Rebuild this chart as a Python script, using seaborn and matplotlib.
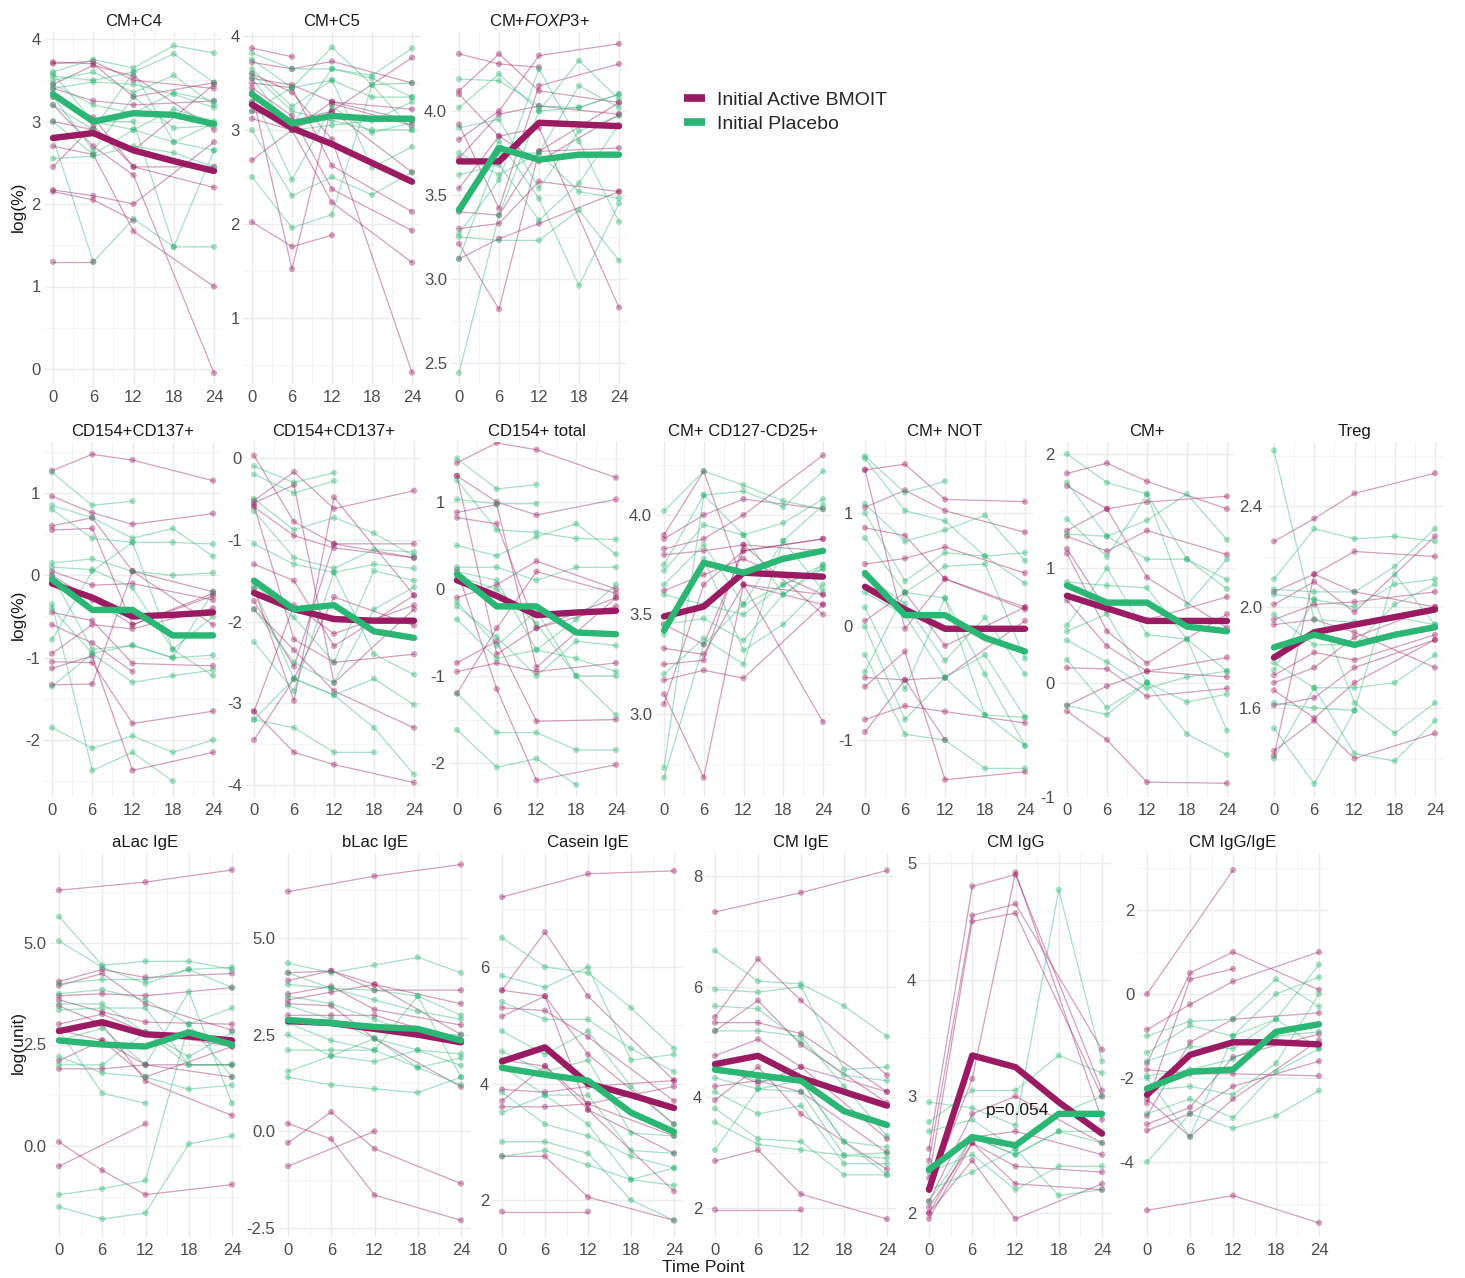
import numpy as np
import pandas as pd
import matplotlib
matplotlib.use("Agg")
import matplotlib.pyplot as plt
import seaborn as sns
from matplotlib.lines import Line2D
from matplotlib.ticker import FixedLocator

N = np.nan
TIME = [0, 6, 12, 18, 24]
GROUPS = ["Initial Active BMOIT", "Initial Placebo"]

# ---------------- data (log values per subject, NaN = missing visit) ----------------
C4_active = [[3.72, 3.70, 3.30, N, 3.47], [3.70, 3.73, 3.50, N, 3.40], [3.40, 3.25, 3.20, N, 3.25],
             [3.30, 3.05, 2.45, N, 2.45], [3.20, 2.70, 2.35, N, -0.05], [2.70, 2.60, 1.67, N, 1.00],
             [2.45, 2.95, 2.45, N, 2.20], [2.17, 2.10, 2.00, N, 2.75], [2.15, 2.05, 1.80, N, N],
             [1.30, 1.30, N, N, N], [3.45, 3.68, 3.55, N, 2.90], [3.00, 2.90, 2.65, N, 3.45]]
C4_placebo = [[3.60, 3.75, 3.65, 3.92, 3.83], [3.55, 3.50, 3.60, 3.82, 3.47], [3.50, 3.60, 3.35, 3.56, 3.20],
              [3.45, 3.20, 3.10, 3.35, 3.25], [3.35, 3.00, 2.90, 3.15, 3.00], [3.00, 2.60, 2.90, 2.75, 2.65],
              [2.55, 2.58, 2.70, 2.62, 2.45], [2.80, 1.30, 1.82, 1.48, 1.48], [3.30, 2.65, 3.30, 2.92, 2.95],
              [3.40, 3.48, 3.45, 3.33, 3.17], [3.58, 3.00, 3.00, 1.48, 2.65], [3.20, 2.90, 3.60, 2.75, 2.98]]
C4_mean_active = [2.80, 2.86, 2.65, 2.52, 2.40]
C4_mean_placebo = [3.33, 3.00, 3.10, 3.08, 2.97]

C5_active = [[3.87, 3.78, N, N, N], [3.72, 3.65, 3.73, N, 3.50], [3.55, 3.48, 3.30, N, 3.22],
             [3.50, 3.45, 2.62, N, 2.13], [3.45, 3.15, 2.37, N, 1.93], [3.30, 3.00, 3.20, N, 3.77],
             [3.12, 3.00, 2.23, N, 1.59], [2.68, 3.00, 3.30, N, 3.10], [2.02, 1.76, 1.88, N, N],
             [3.40, 1.52, 3.28, N, 3.05], [3.60, 3.40, 2.90, N, 0.42], [3.20, 3.10, 3.20, N, 2.55]]
C5_placebo = [[3.82, 3.65, 3.65, 3.58, 3.87], [3.75, 3.45, 3.88, 3.48, 3.50], [3.65, 3.25, 3.53, 3.35, 3.35],
              [3.55, 3.00, 3.05, 3.10, 3.30], [3.40, 2.47, 3.25, 2.97, 3.08], [3.20, 3.45, 3.53, 2.60, 2.82],
              [3.00, 2.30, 2.50, 2.31, 2.55], [2.50, 1.96, 2.10, 3.48, 3.00], [3.60, 3.20, 3.10, 3.00, 3.00],
              [3.30, 3.05, 3.65, 3.55, 3.35]]
C5_mean_active = [3.27, 3.02, 2.85, 2.65, 2.45]
C5_mean_placebo = [3.38, 3.07, 3.15, 3.12, 3.12]

FOXP3_active = [[4.34, 4.28, 4.26, N, N], [4.12, 4.34, 4.12, N, 4.05], [3.92, 3.42, 4.15, N, 4.28],
                [3.83, 4.00, 4.33, N, 4.40], [3.72, 3.98, 4.03, N, 3.98], [3.54, 3.85, 3.90, N, 2.83],
                [3.40, 3.38, 3.76, N, 3.78], [3.30, 3.33, 3.58, N, 3.52], [3.21, 2.82, 3.76, N, 4.05],
                [3.12, 3.24, 3.33, N, 3.52], [4.10, 3.85, 3.70, N, 3.98]]
FOXP3_placebo = [[4.19, 4.18, 4.03, 4.02, 4.10], [4.02, 4.22, 4.00, 4.30, 4.07], [3.90, 3.95, 3.54, 3.88, 3.97],
                 [3.75, 3.62, 3.75, 3.52, 3.48], [3.62, 3.68, 3.35, 3.57, 3.92], [3.42, 3.82, 3.48, 2.96, 3.45],
                 [3.27, 3.59, 4.25, 3.82, 3.34], [3.25, 3.23, 3.23, 3.41, 3.11], [3.12, 3.75, 3.75, 4.15, 4.02],
                 [2.44, 3.38, 4.00, 4.02, 4.10]]
FOXP3_mean_active = [3.70, 3.70, 3.93, 3.92, 3.91]
FOXP3_mean_placebo = [3.41, 3.78, 3.71, 3.74, 3.74]

CD154CD137a_active = [[1.27, 1.47, 1.40, N, 1.15], [0.96, 0.76, 0.62, N, 0.75], [0.60, 0.70, 0.05, N, -0.20],
                      [0.55, 0.57, -0.60, N, -0.25], [0.05, -0.12, -0.10, N, -0.30], [-0.45, -0.55, -1.07, N, -1.10],
                      [-0.60, -0.82, -1.17, N, N], [-0.95, -0.60, -0.65, N, -0.40], [-1.05, -1.06, -1.80, N, -1.65],
                      [-1.13, -0.98, -2.37, N, -2.15], [-1.33, -1.32, 0.05, N, -0.60], [0.00, -0.30, -0.60, N, -0.22]]
CD154CD137a_placebo = [[1.25, 0.85, 0.90, N, N], [0.85, 0.70, 0.45, 0.57, 0.23], [0.80, 0.45, 0.40, 0.40, 0.38],
                       [0.15, 0.20, 0.05, 0.00, 0.03], [0.10, 0.07, -0.15, -0.90, -0.50], [0.00, -0.90, -0.85, -1.00, -0.97],
                       [-0.40, -0.95, -1.30, -1.22, -1.15], [-0.78, 0.05, 0.40, -0.90, -1.22],
                       [-1.35, -0.95, -0.85, -1.00, -0.20], [-1.85, -2.10, -1.95, -2.15, -2.00],
                       [-0.35, -2.37, -2.15, -2.50, N]]
CD154CD137a_mean_active = [-0.10, -0.27, -0.50, -0.48, -0.45]
CD154CD137a_mean_placebo = [-0.05, -0.42, -0.42, -0.73, -0.73]

CD154CD137b_active = [[0.03, -0.78, -1.05, N, -1.05], [-0.52, -0.17, -0.62, N, -0.40], [-0.55, -0.33, -2.75, N, -1.85],
                      [-0.60, -0.95, -1.10, N, -1.22], [-1.30, -1.50, -2.30, N, -1.68], [-1.85, -2.35, -2.85, N, -3.30],
                      [-3.10, -1.80, -2.15, N, -1.80], [-3.45, -2.70, -1.70, N, -2.05], [-3.10, -3.60, -3.75, N, -3.97],
                      [-0.58, -2.22, -2.50, N, -2.40], [-1.60, -2.97, -0.48, N, -1.68], [-1.75, -2.55, -1.05, N, -1.22]]
CD154CD137b_placebo = [[-0.10, -0.30, -0.18, N, N], [-0.20, -0.43, -0.28, N, N], [-0.50, -0.88, -0.73, -0.92, -1.20],
                       [-0.65, -1.22, -1.35, -1.12, -1.15], [-1.05, -1.30, -1.40, -1.30, -1.35],
                       [-1.55, -1.95, -2.50, -1.38, -1.50], [-1.85, -2.50, -2.75, -1.85, -1.58],
                       [-2.25, -2.85, -1.40, -2.40, -2.65], [-3.20, -2.70, -2.90, -2.70, -3.02],
                       [-3.20, -3.30, -3.60, -3.60, N], [-1.60, -2.70, -2.90, -3.30, -3.87]]
CD154CD137b_mean_active = [-1.65, -1.85, -1.97, -1.99, -1.99]
CD154CD137b_mean_placebo = [-1.50, -1.85, -1.80, -2.12, -2.20]

CD154tot_active = [[1.45, 1.68, 1.60, N, 1.28], [1.30, 1.00, 0.85, N, 1.03], [0.88, 0.97, -0.90, N, -0.10],
                   [0.82, 0.75, -0.45, N, -0.20], [-0.10, 0.05, 0.32, N, 0.00], [-0.85, -0.60, -1.52, N, -1.50],
                   [-0.95, -0.85, -0.95, N, -0.85], [-1.20, -0.45, 0.20, N, -0.05], [0.22, -1.15, -2.20, N, -2.02],
                   [1.30, -0.75, -0.45, N, -0.10]]
CD154tot_placebo = [[1.50, 1.15, 1.20, N, N], [1.03, 0.98, 0.98, N, N], [1.25, 0.68, 0.65, 0.58, 0.57],
                    [0.50, 0.38, 0.60, 0.75, 0.40], [0.25, 0.25, 0.10, 0.25, 0.25], [0.20, 0.10, -0.70, -0.35, 0.05],
                    [-0.20, -0.55, -1.00, -0.60, -0.65], [-0.35, -0.80, -0.70, -0.80, -0.95],
                    [-1.20, -1.65, -1.65, -1.85, -1.85], [-1.62, -2.05, -1.95, -2.25, N],
                    [0.15, 0.00, -0.40, -1.00, -1.00], [-0.15, -0.65, -0.25, -1.00, -1.45]]
CD154tot_mean_active = [0.10, -0.08, -0.30, -0.27, -0.25]
CD154tot_mean_placebo = [0.17, -0.20, -0.20, -0.50, -0.52]

CD127_active = [[3.90, 4.22, 3.65, N, 2.96], [3.88, 4.00, 4.08, N, 4.03], [3.83, 3.88, 4.00, N, 4.30],
                [3.80, 3.82, 3.85, N, 3.82], [3.62, 3.70, 3.78, N, 3.60], [3.45, 3.35, 3.82, N, 3.88],
                [3.33, 3.30, 3.65, N, 3.55], [3.25, 3.27, 3.85, N, 3.50], [3.17, 3.22, 3.18, N, 3.55],
                [3.10, 2.68, 3.65, N, 3.60], [3.05, 3.65, 3.82, N, 3.88]]
CD127_placebo = [[4.02, 4.22, 4.15, 4.07, 4.03], [3.75, 4.10, 4.12, 4.04, 4.22], [3.72, 3.95, 3.90, 3.96, 4.08],
                 [3.65, 3.85, 3.55, 3.87, 4.05], [3.60, 3.55, 3.50, 3.65, 3.75], [3.45, 3.48, 3.37, 3.60, 3.73],
                 [3.40, 3.78, 3.32, 3.45, 3.65], [3.20, 3.38, 3.25, 3.87, 3.62], [2.73, 4.10, 3.90, 3.60, 3.75],
                 [2.68, 3.35, 3.55, 3.65, 3.73]]
CD127_mean_active = [3.49, 3.54, 3.71, 3.70, 3.69]
CD127_mean_placebo = [3.42, 3.76, 3.71, 3.78, 3.82]

CMNOT_active = [[1.38, 1.43, 1.12, N, 1.10], [1.05, 1.20, 1.02, N, 0.83], [0.87, 0.80, 0.42, N, 0.15],
                [0.55, 0.60, 0.70, N, 0.47], [0.05, 0.30, -0.17, N, 0.17], [-0.45, -0.47, -0.45, N, 0.05],
                [-0.53, -0.22, -1.35, N, -1.28], [-0.82, -0.70, -0.75, N, -0.85], [1.38, -0.02, 0.42, N, 0.17],
                [-0.93, -0.47, -1.00, N, N]]
CMNOT_placebo = [[1.50, 1.18, 1.28, N, N], [1.48, 1.02, 0.93, 0.62, 0.65], [1.08, 0.75, 0.85, 0.98, 0.58],
                 [1.00, 0.40, 0.65, 0.62, 0.38], [0.78, 0.30, 0.53, 0.55, -0.28], [0.45, 0.20, -0.30, 0.08, -0.42],
                 [0.30, 0.10, -0.45, -0.25, -0.80], [0.17, -0.55, 0.25, -0.42, -1.05],
                 [0.00, -0.82, -0.45, -0.78, -0.80], [-0.25, -0.95, -1.00, -1.25, -1.25],
                 [-0.40, 0.30, 0.25, -0.78, -1.05]]
CMNOT_mean_active = [0.35, 0.15, -0.02, -0.02, -0.02]
CMNOT_mean_placebo = [0.47, 0.10, 0.10, -0.10, -0.22]

CMpos_active = [[1.83, 1.92, 1.76, N, 1.52], [1.72, 1.52, 1.58, N, 1.63], [1.33, 1.52, 0.92, N, 0.48],
                [1.28, 1.15, 1.33, N, 1.12], [1.17, 0.63, 0.55, N, 0.75], [1.13, 0.45, 0.17, N, 0.60],
                [0.72, 0.32, 0.10, N, 0.22], [0.13, 0.12, -0.12, N, -0.05], [-0.20, -0.03, 0.10, N, 0.05],
                [-0.25, -0.50, -0.87, N, -0.88]]
CMpos_placebo = [[2.00, 1.75, 1.65, 1.08, 0.90], [1.75, 1.28, 1.42, 1.65, 1.25], [1.43, 1.10, 1.65, 0.68, 1.08],
                 [1.30, 1.28, 1.08, 1.08, 0.82], [0.88, 0.85, 0.83, 0.38, 0.10], [0.50, 1.00, 0.42, 0.38, -0.42],
                 [0.45, 0.60, 0.00, -0.17, -0.10], [0.37, 0.18, -0.05, 0.05, 0.10],
                 [0.20, -0.22, 0.00, -0.45, -0.63], [-0.20, -0.28, 0.00, N, N]]
CMpos_mean_active = [0.76, 0.65, 0.54, 0.54, 0.54]
CMpos_mean_placebo = [0.85, 0.70, 0.70, 0.49, 0.45]

Treg_active = [[2.26, 2.35, 2.45, N, 2.53], [2.06, 2.13, 2.22, N, 2.20], [2.01, 2.10, 1.98, N, 2.28],
               [1.95, 2.01, 2.02, N, 2.06], [1.93, 1.95, 1.90, N, 1.76], [1.73, 1.82, 1.79, N, 1.89],
               [1.70, 1.76, 1.88, N, 2.00], [1.67, 1.56, 1.70, N, 1.87], [1.61, 1.64, 1.76, N, 1.87],
               [1.43, 1.55, 1.40, N, 1.50], [1.41, 2.13, 2.06, N, 2.00]]
Treg_placebo = [[2.62, 1.95, 1.94, 1.96, 1.93], [2.11, 2.31, 2.27, 2.28, 2.26], [2.07, 2.06, 2.06, 2.16, 2.31],
                [2.05, 2.03, 2.00, 2.09, 2.11], [1.97, 1.85, 1.85, 2.01, 2.09], [1.78, 1.68, 1.68, 1.70, 1.81],
                [1.75, 2.03, 1.62, 1.50, 1.62], [1.62, 1.60, 1.59, 2.13, 1.93], [1.52, 1.30, 1.59, N, N],
                [1.40, 1.68, 1.42, 1.39, 1.55]]
Treg_mean_active = [1.80, 1.90, 1.93, 1.96, 1.99]
Treg_mean_placebo = [1.84, 1.89, 1.85, 1.89, 1.92]

aLac_active = [[6.30, N, 6.50, N, 6.80], [4.05, 4.35, 4.15, N, 4.25], [3.95, 4.25, 3.50, N, 2.85],
               [3.70, 3.75, 3.70, N, 3.90], [3.60, 3.30, 3.05, N, 3.00], [3.45, 3.00, 1.60, N, 0.75],
               [3.00, 3.25, 2.80, N, 2.45], [2.85, 2.60, 1.70, N, 2.45], [2.10, 2.60, 2.00, N, 1.70],
               [1.90, 1.90, 2.00, N, 2.00], [0.10, -0.60, -1.20, N, -0.95], [-0.50, N, 0.55, N, N]]
aLac_placebo = [[5.65, 4.45, 4.55, 4.55, 4.35], [5.05, 4.40, 4.00, 4.35, 4.40], [4.00, 4.10, 4.10, 4.35, 3.90],
                [3.75, 3.85, 3.60, 3.00, 3.40], [3.50, 3.50, 2.80, 2.20, 2.80], [3.35, 3.40, 3.40, 2.00, 2.00],
                [2.60, 2.90, 2.00, 3.80, 1.05], [2.20, 1.80, 1.70, 1.40, 1.50], [2.85, 1.30, 1.05, N, N],
                [-1.20, -1.05, -0.85, 3.00, 1.70], [-1.50, -1.80, -1.65, 0.05, 0.25], [2.00, 2.00, 2.80, 2.00, 2.00]]
aLac_mean_active = [2.83, 3.05, 2.75, 2.70, 2.60]
aLac_mean_placebo = [2.60, 2.50, 2.45, 2.80, 2.50]

bLac_active = [[6.20, N, 6.60, N, 6.90], [4.10, 4.15, 3.80, N, 3.30], [3.90, 4.15, 3.65, N, 3.65],
               [3.55, 3.75, 3.15, N, 2.75], [3.40, 3.60, 3.80, N, 2.50], [3.30, 3.25, 2.40, N, 1.15],
               [3.00, 3.00, 3.00, N, 2.35], [0.20, -0.20, -1.65, N, -2.30], [-0.30, 0.50, -0.45, N, -1.35],
               [-0.90, N, 0.00, N, N]]
bLac_placebo = [[4.35, 4.10, 4.30, 4.50, 4.10], [4.10, 3.70, 3.65, 3.50, 3.00], [3.80, 3.70, 3.40, 3.10, 2.90],
                [3.50, 3.30, 2.90, 2.50, 2.50], [3.25, 2.90, 2.40, 2.10, 2.00], [2.80, 2.35, 2.10, 1.65, 1.90],
                [2.50, 1.95, 1.80, 2.10, 1.70], [2.10, 2.10, 2.10, 3.50, 1.40], [1.55, 1.95, 2.40, 1.65, 1.20],
                [1.40, 1.20, 1.10, 1.00, 1.40]]
bLac_mean_active = [2.85, 2.80, 2.65, 2.50, 2.30]
bLac_mean_placebo = [2.88, 2.80, 2.70, 2.65, 2.35]

Casein_active = [[7.20, N, 7.60, N, 7.65], [5.60, 6.60, 5.50, N, 4.05], [5.30, 5.25, 4.80, N, 3.70],
                 [5.15, 5.50, 4.50, N, 3.30], [4.40, 4.30, 3.55, N, 2.80], [3.90, 3.85, 3.95, N, 4.05],
                 [3.70, 4.30, 3.65, N, 3.10], [3.60, 3.60, 3.65, N, 3.95], [2.75, 2.75, 2.05, N, 1.65],
                 [1.80, N, 1.80, N, N], [5.60, 5.50, 3.55, N, 2.15]]
Casein_placebo = [[6.50, 6.00, 5.90, 5.30, 4.60], [5.85, 5.65, 6.00, 4.40, 4.50], [5.40, 5.10, 5.10, 4.60, 4.20],
                  [4.90, 4.50, 4.90, 3.95, 3.30], [4.55, 4.20, 4.40, 3.15, 3.10], [4.30, 3.80, 3.80, 2.85, 2.80],
                  [3.85, 3.30, 3.10, 2.75, 2.55], [3.50, 3.80, 3.30, 2.35, 2.55], [3.00, 3.00, 2.80, 2.00, 1.65],
                  [2.75, 2.85, 2.60, 2.35, 2.25]]
Casein_mean_active = [4.38, 4.62, 4.00, 3.80, 3.58]
Casein_mean_placebo = [4.27, 4.15, 4.05, 3.50, 3.17]

CMIgE_active = [[7.35, N, 7.70, N, 8.10], [5.45, 6.50, 5.75, N, 4.40], [5.35, 5.35, 5.15, N, 4.10],
                [5.20, 5.75, 4.95, N, 3.90], [4.75, 5.05, 4.55, N, 3.25], [4.20, 4.30, 4.10, N, 3.00],
                [3.95, 4.55, 3.70, N, 2.70], [2.85, 3.05, 2.25, N, 1.80], [1.97, N, 1.97, N, N],
                [4.60, 4.25, 4.55, N, 4.10]]
CMIgE_placebo = [[6.65, 6.10, 6.05, 5.65, 5.10], [5.95, 5.90, 6.00, 4.50, 4.55], [5.65, 5.60, 5.00, 4.40, 4.30],
                 [5.20, 5.20, 5.10, 4.20, 3.30], [4.55, 4.30, 4.30, 3.20, 3.10], [4.35, 4.15, 4.10, 2.95, 3.00],
                 [4.10, 3.70, 3.85, 2.80, 2.80], [3.80, 3.25, 3.20, 2.60, 2.60], [3.55, 3.15, 3.05, 2.95, 2.90],
                 [3.05, 4.15, 4.30, 3.20, 2.60]]
CMIgE_mean_active = [4.60, 4.75, 4.35, 4.10, 3.85]
CMIgE_mean_placebo = [4.50, 4.40, 4.30, 3.75, 3.50]

CMIgG_active = [[2.55, 4.80, 4.90, N, 3.05], [2.45, 4.55, 4.65, N, 3.40], [2.30, 4.50, 4.57, N, 3.00],
                [2.20, 3.15, 4.92, N, 2.80], [2.10, 2.85, 3.00, N, 2.60], [2.00, 2.65, 2.70, N, 2.50],
                [1.95, 2.60, 2.40, N, 2.35], [2.00, 2.45, 1.95, N, 2.25], [2.05, 2.60, 2.25, N, 2.20]]
CMIgG_placebo = [[2.95, 2.90, 2.75, 4.77, 3.30], [2.78, 3.05, 3.05, 3.35, 3.20], [2.70, 2.80, 2.55, 2.85, 3.00],
                 [2.40, 2.65, 2.50, 2.70, 2.70], [2.35, 2.50, 2.20, 2.40, 2.40], [2.20, 2.35, 2.55, 2.15, 2.20],
                 [2.10, 2.65, 2.50, 2.70, 2.60]]
CMIgG_mean_active = [2.20, 3.35, 3.25, 2.95, 2.68]
CMIgG_mean_placebo = [2.37, 2.65, 2.58, 2.85, 2.85]

Ratio_active = [[0.00, N, 2.95, N, N], [-0.85, -0.25, 0.30, N, 1.00], [-1.65, 0.50, 1.00, N, 0.10],
                [-2.60, 0.35, 0.60, N, N], [-2.90, -1.15, -0.60, N, -0.45], [-3.10, -2.70, -1.50, N, -0.95],
                [-3.25, -2.85, -2.20, N, -1.60], [-2.50, -3.40, -2.50, N, -1.10], [-5.15, N, -4.80, N, -5.45],
                [-1.80, -1.90, -1.90, N, -1.95]]
Ratio_placebo = [[-1.00, -0.65, -0.60, 0.35, -0.30], [-1.40, -0.75, -1.00, 0.00, 0.40],
                 [-1.60, -1.25, -1.30, -0.60, 0.70], [-1.95, -1.80, -1.55, -1.00, -0.90],
                 [-2.30, -2.20, -2.40, -1.65, 0.00], [-2.85, -2.50, -2.95, -1.85, -1.30],
                 [-4.00, -2.85, -3.20, -2.90, -2.30], [-2.00, -3.40, -1.00, -0.60, -1.30]]
Ratio_mean_active = [-2.40, -1.45, -1.15, -1.15, -1.20]
Ratio_mean_placebo = [-2.25, -1.85, -1.80, -0.90, -0.72]

# ---------------- layout (pixels in a 1465 x 1278 canvas) ----------------
W, H = 1465, 1278
ROW_Y = {1: (32, 384), 2: (442, 797), 3: (853, 1237)}
# title, active, placebo, mean_a, mean_p, row, px(t=0), px(t=24), y-calibration (v1, py1, v2, py2), yticks
PANELS = [
    ("CM+C4", C4_active, C4_placebo, C4_mean_active, C4_mean_placebo, 1, 53, 214, (4, 39, 0, 369), [0, 1, 2, 3, 4]),
    ("CM+C5", C5_active, C5_placebo, C5_mean_active, C5_mean_placebo, 1, 252, 412, (4, 36, 1, 318), [1, 2, 3, 4]),
    ("CM+$\\mathit{FOXP3}$+", FOXP3_active, FOXP3_placebo, FOXP3_mean_active, FOXP3_mean_placebo, 1, 459, 619,
     (4.0, 111, 2.5, 363), [2.5, 3.0, 3.5, 4.0]),
    ("CD154+CD137+", CD154CD137a_active, CD154CD137a_placebo, CD154CD137a_mean_active, CD154CD137a_mean_placebo,
     2, 52, 213, (1, 493, -2, 740), [-2, -1, 0, 1]),
    ("CD154+CD137+", CD154CD137b_active, CD154CD137b_placebo, CD154CD137b_mean_active, CD154CD137b_mean_placebo,
     2, 254, 414, (0, 458, -4, 785), [-4, -3, -2, -1, 0]),
    ("CD154+ total", CD154tot_active, CD154tot_placebo, CD154tot_mean_active, CD154tot_mean_placebo,
     2, 457, 616, (1, 502, -2, 763), [-2, -1, 0, 1]),
    ("CM+ CD127-CD25+", CD127_active, CD127_placebo, CD127_mean_active, CD127_mean_placebo,
     2, 664, 823, (4.0, 515, 3.0, 714), [3.0, 3.5, 4.0]),
    ("CM+ NOT", CMNOT_active, CMNOT_placebo, CMNOT_mean_active, CMNOT_mean_placebo,
     2, 865, 1025, (1, 513, -1, 740), [-1, 0, 1]),
    ("CM+", CMpos_active, CMpos_placebo, CMpos_mean_active, CMpos_mean_placebo,
     2, 1067, 1227, (2, 454, -1, 797), [-1, 0, 1, 2]),
    ("Treg", Treg_active, Treg_placebo, Treg_mean_active, Treg_mean_placebo,
     2, 1274, 1435, (2.4, 506, 1.6, 708), [1.6, 2.0, 2.4]),
    ("aLac IgE", aLac_active, aLac_placebo, aLac_mean_active, aLac_mean_placebo,
     3, 59, 232, (5.0, 943, 0.0, 1146), [0.0, 2.5, 5.0]),
    ("bLac IgE", bLac_active, bLac_placebo, bLac_mean_active, bLac_mean_placebo,
     3, 288, 461, (5.0, 938, -2.5, 1228), [-2.5, 0.0, 2.5, 5.0]),
    ("Casein IgE", Casein_active, Casein_placebo, Casein_mean_active, Casein_mean_placebo,
     3, 502, 674, (6, 967, 2, 1200), [2, 4, 6]),
    ("CM IgE", CMIgE_active, CMIgE_placebo, CMIgE_mean_active, CMIgE_mean_placebo,
     3, 715, 887, (8, 876, 2, 1208), [2, 4, 6, 8]),
    ("CM IgG", CMIgG_active, CMIgG_placebo, CMIgG_mean_active, CMIgG_mean_placebo,
     3, 929, 1102, (5, 863, 2, 1213), [2, 3, 4, 5]),
    ("CM IgG/IgE", Ratio_active, Ratio_placebo, Ratio_mean_active, Ratio_mean_placebo,
     3, 1147, 1319, (2, 910, -4, 1162), [-4, -2, 0, 2]),
]

PAL = {GROUPS[0]: "#9B1B62", GROUPS[1]: "#2BB673"}

sns.set_theme(style="white")
plt.rcParams["font.family"] = ["Liberation Sans", "DejaVu Sans"]
plt.rcParams["mathtext.fontset"] = "custom"
plt.rcParams["mathtext.rm"] = "Liberation Sans"
plt.rcParams["mathtext.it"] = "Liberation Sans:italic"

TXT = "#1A1A1A"


def subjects_df(active, placebo):
    rows = []
    for g, subs in zip(GROUPS, (active, placebo)):
        for i, s in enumerate(subs):
            for t, v in zip(TIME, s):
                if not np.isnan(v):
                    rows.append((g, f"{g}-{i}", t, v))
    return pd.DataFrame(rows, columns=["group", "subject", "time", "value"])


def means_df(ma, mp):
    rows = [(g, t, v) for g, m in zip(GROUPS, (ma, mp)) for t, v in zip(TIME, m)]
    return pd.DataFrame(rows, columns=["group", "time", "value"])


fig = plt.figure(figsize=(W / 100, H / 100), dpi=100)
fig.patch.set_facecolor("white")

axes = {}
for title, act, plc, ma, mp, row, x0, x24, cal, yticks in PANELS:
    top, bot = ROW_Y[row]
    ppu = (x24 - x0) / 24.0
    left, right = x0 - 1.2 * ppu, x24 + 1.2 * ppu
    v1, p1, v2, p2 = cal
    vpp = (v1 - v2) / (p2 - p1)
    ytop = v1 + (p1 - top) * vpp
    ybot = v2 - (bot - p2) * vpp
    ax = fig.add_axes([left / W, 1 - bot / H, (right - left) / W, (bot - top) / H])
    ax.set_facecolor("white")

    df = subjects_df(act, plc)
    sns.lineplot(data=df, x="time", y="value", hue="group", units="subject", estimator=None,
                 palette=PAL, hue_order=GROUPS, alpha=0.42, linewidth=0.9, legend=False, ax=ax, zorder=2)
    sns.scatterplot(data=df, x="time", y="value", hue="group", palette=PAL, hue_order=GROUPS,
                    alpha=0.4, s=20, linewidth=0, legend=False, ax=ax, zorder=3)
    md = means_df(ma, mp)
    sns.lineplot(data=md, x="time", y="value", hue="group", palette=PAL, hue_order=GROUPS,
                 errorbar=None, linewidth=4.6, legend=False, ax=ax, zorder=4)

    ax.set_xlim(-1.2, 25.2)
    ax.set_ylim(ybot, ytop)
    ax.xaxis.set_major_locator(FixedLocator(TIME))
    ax.xaxis.set_minor_locator(FixedLocator([3, 9, 15, 21]))
    ax.yaxis.set_major_locator(FixedLocator(yticks))
    step = yticks[1] - yticks[0]
    minors = [yticks[0] - step / 2] + [t + step / 2 for t in yticks]
    ax.yaxis.set_minor_locator(FixedLocator(minors))
    ax.set_xticklabels([str(t) for t in TIME])
    ax.set_yticklabels([("%.1f" % t) if isinstance(t, float) else str(t) for t in yticks])
    ax.grid(which="major", color="#EBEBEB", linewidth=1.0, zorder=0)
    ax.grid(which="minor", color="#F2F2F2", linewidth=0.6, zorder=0)
    ax.set_axisbelow(True)
    ax.tick_params(axis="both", which="both", length=0, labelsize=12, labelcolor="#4D4D4D")
    ax.tick_params(axis="x", pad=4)
    ax.tick_params(axis="y", pad=3)
    for sp in ax.spines.values():
        sp.set_visible(False)
    ax.set_xlabel("")
    ax.set_ylabel("")
    ax.set_title(title, fontsize=12, color=TXT, pad=4)
    axes[title] = ax

# annotation in CM IgG
axes["CM IgG"].text(12.3, 2.88, "p=0.054", ha="center", va="center", fontsize=12.5, color=TXT, zorder=6)

# axis labels
fig.text(18 / W, 1 - 207 / H, "log(%)", rotation=90, ha="center", va="center", fontsize=12.5, color=TXT)
fig.text(18 / W, 1 - 615 / H, "log(%)", rotation=90, ha="center", va="center", fontsize=12.5, color=TXT)
fig.text(18 / W, 1 - 1043 / H, "log(unit)", rotation=90, ha="center", va="center", fontsize=12.5, color=TXT)
fig.text(703 / W, 1 - 1268 / H, "Time Point", ha="center", va="center", fontsize=12.5, color=TXT)

# legend
handles = [Line2D([0], [0], color=PAL[g], linewidth=5.5, solid_capstyle="butt") for g in GROUPS]
fig.legend(handles, GROUPS, loc="center left", bbox_to_anchor=(684 / W, 1 - 112 / H), frameon=False,
           fontsize=14, handlelength=1.1, handletextpad=0.6, labelspacing=0.3, borderaxespad=0, borderpad=0)

fig.savefig("out.png", dpi=100, facecolor="white")
